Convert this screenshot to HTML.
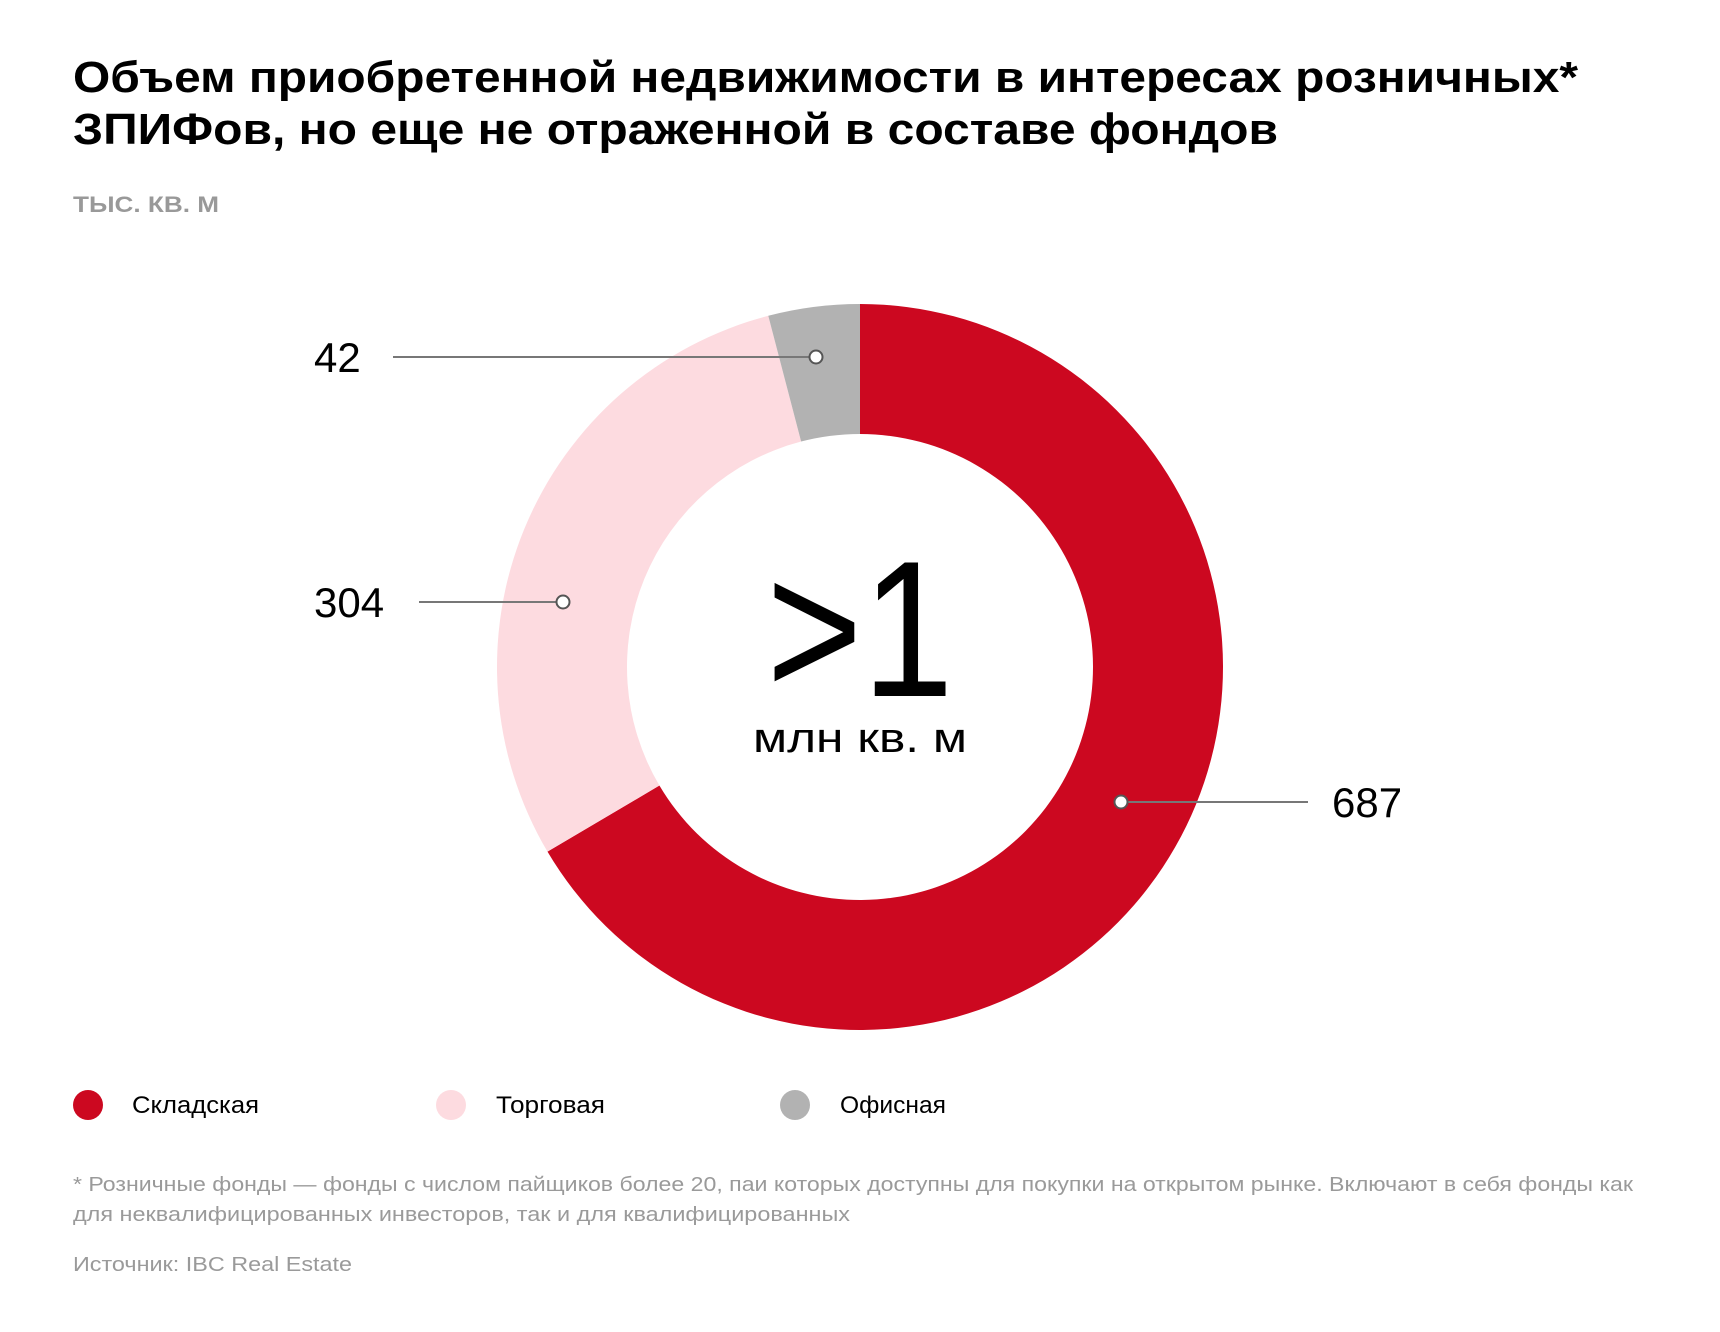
<!DOCTYPE html>
<html><head><meta charset="utf-8"><style>
html,body{margin:0;padding:0;background:#fff;}
svg{display:block;font-family:"Liberation Sans","Noto Sans CJK SC",sans-serif;}
</style></head><body>
<svg id="chart" width="1720" height="1332" viewBox="0 0 1720 1332" xmlns="http://www.w3.org/2000/svg">
<text x="73" y="92" font-size="44" font-weight="bold" fill="#000" textLength="1505" lengthAdjust="spacingAndGlyphs">Объем приобретенной недвижимости в интересах розничных*</text>
<text x="73" y="144" font-size="44" font-weight="bold" fill="#000" textLength="1205" lengthAdjust="spacingAndGlyphs">ЗПИФов, но еще не отраженной в составе фондов</text>
<text x="73" y="212" font-size="22" font-weight="bold" fill="#999" textLength="146" lengthAdjust="spacingAndGlyphs">ТЫС. КВ. М</text>
<g id="slices"></g>
<g id="labels"></g>
<text x="860" y="696" font-size="194" text-anchor="middle" fill="#000" textLength="187" lengthAdjust="spacingAndGlyphs">&gt;1</text>
<text x="860" y="752" font-size="42" text-anchor="middle" fill="#000" textLength="214" lengthAdjust="spacingAndGlyphs">млн кв. м</text>
<g>
<circle cx="88" cy="1105" r="15" fill="#cc0820"/>
<text x="132" y="1113" font-size="24" fill="#000" textLength="127" lengthAdjust="spacingAndGlyphs">Складская</text>
<circle cx="451" cy="1105" r="15" fill="#fddbe0"/>
<text x="496" y="1113" font-size="24" fill="#000" textLength="109" lengthAdjust="spacingAndGlyphs">Торговая</text>
<circle cx="795" cy="1105" r="15" fill="#b2b2b2"/>
<text x="840" y="1113" font-size="24" fill="#000" textLength="106" lengthAdjust="spacingAndGlyphs">Офисная</text>
</g>
<text x="73" y="1191" font-size="20" fill="#9a9a9a" textLength="1560" lengthAdjust="spacingAndGlyphs">* Розничные фонды — фонды с числом пайщиков более 20, паи которых доступны для покупки на открытом рынке. Включают в себя фонды как</text>
<text x="73" y="1221" font-size="20" fill="#9a9a9a" textLength="777" lengthAdjust="spacingAndGlyphs">для неквалифицированных инвесторов, так и для квалифицированных</text>
<text x="73" y="1271" font-size="20" fill="#9a9a9a" textLength="279" lengthAdjust="spacingAndGlyphs">Источник: IBC Real Estate</text>
</svg>
<script>
const categories = ["Складская", "Торговая", "Офисная"];
const values = [687, 304, 42];
const valueLabels = ["687", "304", "42"];
const colors = ["#cc0820", "#fddbe0", "#b2b2b2"];
const cx = 860, cy = 667, R = 363, r = 233;
const NS = "http://www.w3.org/2000/svg";
const total = values.reduce((a, b) => a + b, 0);
function pt(angle, rad) { return [cx + rad * Math.sin(angle), cy - rad * Math.cos(angle)]; }
const slicesG = document.getElementById("slices");
const labelsG = document.getElementById("labels");
const sliceNames = ["slice-warehouse", "slice-retail", "slice-office"];
// callout layout (not data)
const labelSide = [1, -1, -1];
const labelY = [802, 602, 357];
const anchorDx = [261, -297, -44];
const lineEnds = [1308, 419, 393];
let a0 = 0;
values.forEach((v, i) => {
  const a1 = a0 + v / total * 2 * Math.PI;
  const large = (a1 - a0) > Math.PI ? 1 : 0;
  const [x0, y0] = pt(a0, R), [x1, y1] = pt(a1, R), [x2, y2] = pt(a1, r), [x3, y3] = pt(a0, r);
  const p = document.createElementNS(NS, "path");
  p.setAttribute("d", `M${x0},${y0} A${R},${R} 0 ${large} 1 ${x1},${y1} L${x2},${y2} A${r},${r} 0 ${large} 0 ${x3},${y3} Z`);
  p.setAttribute("fill", colors[i]);
  
  
  slicesG.appendChild(p);
  const ly = labelY[i];
  const ax = cx + anchorDx[i];
  const side = labelSide[i];
  const ln = document.createElementNS(NS, "line");
  ln.setAttribute("x1", ax); ln.setAttribute("y1", ly);
  ln.setAttribute("x2", lineEnds[i]); ln.setAttribute("y2", ly);
  ln.setAttribute("stroke", "#777"); ln.setAttribute("stroke-width", "2");
  
  
  labelsG.appendChild(ln);
  const c = document.createElementNS(NS, "circle");
  c.setAttribute("cx", ax); c.setAttribute("cy", ly); c.setAttribute("r", "6.5");
  c.setAttribute("fill", "#fff"); c.setAttribute("stroke", "#555"); c.setAttribute("stroke-width", "2");
  
  
  labelsG.appendChild(c);
  const t = document.createElementNS(NS, "text");
  t.setAttribute("x", side > 0 ? 1332 : 314);
  t.setAttribute("y", ly + 15);
  t.setAttribute("font-size", "42");
  t.setAttribute("fill", "#000");
  t.textContent = valueLabels[i];
  
  
  labelsG.appendChild(t);
  a0 = a1;
});
</script>
</body></html>
